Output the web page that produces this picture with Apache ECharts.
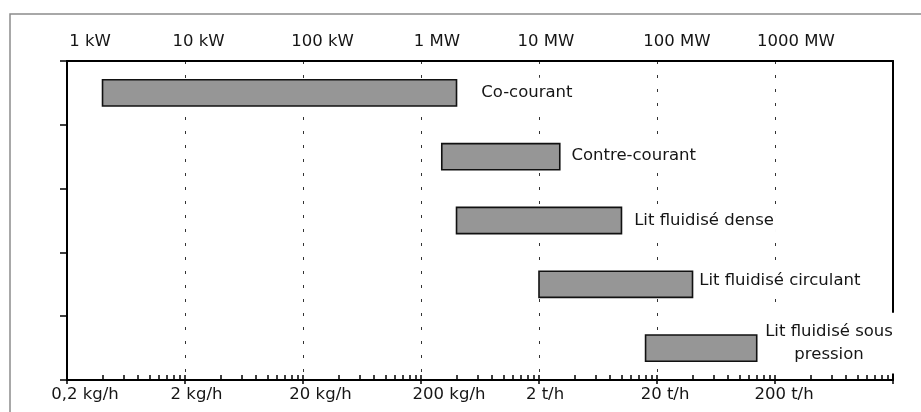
<!DOCTYPE html>
<html>
<head>
<meta charset="utf-8">
<script src="https://cdn.jsdelivr.net/npm/echarts@6/dist/echarts.min.js"></script>
<style>
  html, body { margin: 0; padding: 0; background: #fff; }
  #chart { width: 921px; height: 412px; }
</style>
</head>
<body>
<div id="chart"></div>
<script>
// ---- data (power in kW; 1 kW <-> 0.2 kg/h) ----
const categories = ['Co-courant', 'Contre-courant', 'Lit fluidisé dense', 'Lit fluidisé circulant', 'Lit fluidisé sous\npression'];
const rangeStartKW = [2, 1500, 2000, 10000, 80000];
const rangeEndKW = [2000, 15000, 50000, 200000, 700000];
const powerTickLabels = ['1 kW', '10 kW', '100 kW', '1 MW', '10 MW', '100 MW', '1000 MW'];
const flowTickLabels = ['0,2 kg/h', '2 kg/h', '20 kg/h', '200 kg/h', '2 t/h', '20 t/h', '200 t/h'];
const axisMinKW = 1;
const axisMaxKW = 1e7;

// ---- styling ----
const FONT = 'DejaVu Sans';
const FS = 16.5;
const TXT = '#151515';
const topShift = [23, 13.5, 19.5, 16, 7, 20, 21];
const bottomShift = [18, 11.5, 17.5, 28, 6, 8, 9];
const labelGap = [22.7, 9.7, 10.7, 4.7, 72.3];
const labelAlign = ['left', 'left', 'left', 'left', 'center'];
const labelDy = [-0.5, -1, 0, -3.5, -5];

function decadeIndex(v) { return Math.round(Math.log10(v / axisMinKW)); }

function richShift(shifts) {
  const r = {};
  shifts.forEach((s, i) => {
    r['s' + i] = { fontFamily: FONT, fontSize: FS, color: TXT, padding: [0, 0, 0, 2 * s] };
  });
  return r;
}

const decades = [];
for (let v = axisMinKW; v <= axisMaxKW; v *= 10) decades.push(v);
const minorTicks = [];
decades.slice(0, -1).forEach(d => { for (let k = 2; k <= 9; k++) minorTicks.push(d * k); });

const seriesData = categories.map((c, i) => [i, rangeStartKW[i], rangeEndKW[i]]);

const chart = echarts.init(document.getElementById('chart'), null, { renderer: 'canvas' });

chart.setOption({
  animation: false,
  backgroundColor: '#fff',
  grid: { left: 67, right: 28, top: 61, bottom: 32, containLabel: false },
  graphic: [{
    type: 'rect',
    shape: { x: 10, y: 14, width: 940, height: 440 },
    style: { fill: 'none', stroke: '#8c8c8c', lineWidth: 1.5 },
    silent: true, z: -10
  }],
  xAxis: [
    {
      type: 'log', logBase: 10, min: axisMinKW, max: axisMaxKW, position: 'bottom',
      axisLine: { show: true, lineStyle: { color: '#000', width: 2 } },
      axisTick: { show: true, inside: false, length: 4, lineStyle: { color: '#000', width: 1.5 } },
      minorTick: { show: false },
      splitLine: { show: true, lineStyle: { color: '#333', width: 1, type: [3, 11] } },
      axisLabel: {
        show: true, margin: 6,
        formatter: (v) => {
          const i = decadeIndex(v);
          return i < flowTickLabels.length ? '{s' + i + '|' + flowTickLabels[i] + '}' : '';
        },
        rich: richShift(bottomShift)
      }
    },
    {
      type: 'log', logBase: 10, min: axisMinKW, max: axisMaxKW, position: 'bottom',
      axisLine: { show: false },
      axisTick: { show: true, inside: true, length: 5, customValues: minorTicks.concat(decades), lineStyle: { color: '#000', width: 1.5 } },
      splitLine: { show: false },
      axisLabel: { show: false }
    },
    {
      type: 'log', logBase: 10, min: axisMinKW, max: axisMaxKW, position: 'top',
      axisLine: { show: true, lineStyle: { color: '#000', width: 2 } },
      axisTick: { show: false },
      splitLine: { show: false },
      axisLabel: {
        show: true, margin: 11,
        formatter: (v) => {
          const i = decadeIndex(v);
          return i < powerTickLabels.length ? '{s' + i + '|' + powerTickLabels[i] + '}' : '';
        },
        rich: richShift(topShift)
      }
    }
  ],
  yAxis: [
    {
      type: 'category', data: categories, inverse: true, position: 'left',
      axisLine: { show: true, lineStyle: { color: '#000', width: 2 } },
      axisTick: { show: true, inside: false, length: 7, alignWithLabel: false, lineStyle: { color: '#000', width: 1.5 } },
      axisLabel: { show: false },
      splitLine: { show: false }
    },
    {
      type: 'category', data: categories, inverse: true, position: 'right',
      axisLine: { show: true, lineStyle: { color: '#000', width: 2 } },
      axisTick: { show: false },
      axisLabel: { show: false },
      splitLine: { show: false }
    }
  ],
  series: [{
    type: 'custom',
    xAxisIndex: 0, yAxisIndex: 0,
    encode: { x: [1, 2], y: 0 },
    data: seriesData,
    renderItem: function (params, api) {
      const i = api.value(0);
      const p0 = api.coord([api.value(1), i]);
      const p1 = api.coord([api.value(2), i]);
      const h = api.size([0, 1])[1] * 0.41;
      const last = labelAlign[i] === 'center';
      return {
        type: 'group',
        children: [
          {
            type: 'rect',
            shape: { x: p0[0], y: p0[1] - h / 2, width: p1[0] - p0[0], height: h },
            style: { fill: '#969696', stroke: '#111', lineWidth: 1.6 }
          },
          {
            type: 'text',
            x: p1[0] + labelGap[i],
            y: p0[1] + labelDy[i],
            z2: 10,
            style: {
              text: categories[i],
              fontFamily: FONT, fontSize: FS, fill: TXT,
              align: labelAlign[i], verticalAlign: 'middle',
              lineHeight: 23.3,
              backgroundColor: '#fff',
              padding: last ? [5, 3, 9, 3] : [3, 2, 3, 2]
            }
          }
        ]
      };
    }
  }]
});
</script>
</body>
</html>
